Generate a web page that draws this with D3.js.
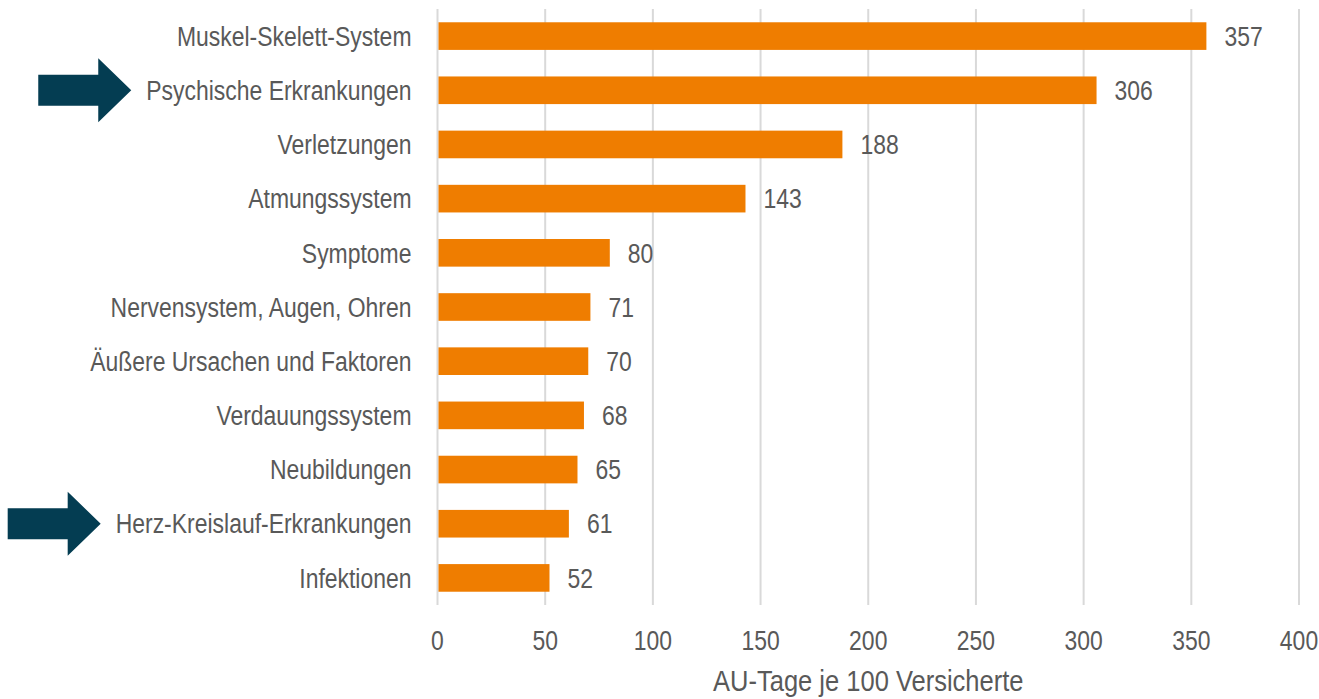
<!DOCTYPE html>
<html>
<head>
<meta charset="utf-8">
<script src="https://cdn.jsdelivr.net/npm/d3@7"></script>
<style>
  body { margin: 0; background: #fff; }
  svg text { font-family: "Liberation Sans", Arial, sans-serif; fill: #595959; }
</style>
</head>
<body>
<div class="js-container"></div>
<script>
(function() {
  'use strict';

  var categories = [
    'Muskel-Skelett-System', 'Psychische Erkrankungen', 'Verletzungen',
    'Atmungssystem', 'Symptome', 'Nervensystem, Augen, Ohren',
    'Äußere Ursachen und Faktoren', 'Verdauungssystem', 'Neubildungen',
    'Herz-Kreislauf-Erkrankungen', 'Infektionen'
  ];
  var values = [357, 306, 188, 143, 80, 71, 70, 68, 65, 61, 52];
  var ticks = [0, 50, 100, 150, 200, 250, 300, 350, 400];
  var highlighted = ['Psychische Erkrankungen', 'Herz-Kreislauf-Erkrankungen'];
  var axisTitle = 'AU-Tage je 100 Versicherte';

  var W = 1319, H = 699;
  var left = 437.5, right = 1299, top = 9, bottom = 605;
  var narrow = 0.85; // squeeze the text, the original uses a condensed face

  var svg = d3.select('.js-container').append('svg')
      .attr('width', W)
      .attr('height', H);

  var x = d3.scaleLinear().domain([0, 400]).range([left, right]);
  var y = d3.scaleBand().domain(categories).range([top, bottom]).paddingInner(0.49).paddingOuter(0.245);

  /**
   * Adds a condensed text at (tx, ty) to the given parent.
   */
  function addText(parent, tx, ty, str, anchor, size) {
    return parent.append('text')
        .attr('transform', 'translate(' + tx + ',' + ty + ') scale(' + narrow + ',1)')
        .attr('text-anchor', anchor || 'start')
        .attr('dy', '0.36em')
        .attr('font-size', size || 27)
        .text(str);
  }

  // gridlines
  svg.append('g').selectAll('line')
      .data(ticks)
      .join('line')
      .attr('x1', function(d) { return x(d); })
      .attr('x2', function(d) { return x(d); })
      .attr('y1', top)
      .attr('y2', bottom)
      .attr('stroke', '#d9d9d9')
      .attr('stroke-width', 2);

  // bars
  svg.append('g').selectAll('rect')
      .data(values)
      .join('rect')
      .attr('x', x(0) + 1)
      .attr('y', function(d, i) { return y(categories[i]); })
      .attr('width', function(d) { return x(d) - x(0) - 1; })
      .attr('height', y.bandwidth())
      .attr('fill', '#ef7d00');

  var gVal = svg.append('g');
  values.forEach(function(d, i) {
    addText(gVal, x(d) + 18, y(categories[i]) + y.bandwidth() / 2, d);
  });

  var gCat = svg.append('g');
  categories.forEach(function(d) {
    var cy = y(d) + y.bandwidth() / 2;
    var t = addText(gCat, left - 26, cy, d, 'end');
    if (highlighted.indexOf(d) < 0) return;
    // arrow pointing at the label
    var tip = left - 26 + t.node().getBBox().x * narrow - 15;
    var pts = [
      [tip - 93, cy - 15.5], [tip - 33, cy - 15.5], [tip - 33, cy - 32],
      [tip, cy], [tip - 33, cy + 32], [tip - 33, cy + 15.5], [tip - 93, cy + 15.5]
    ];
    svg.append('polygon')
        .attr('points', pts.map(function(p) { return p.join(','); }).join(' '))
        .attr('fill', '#043d52');
  });

  var gTick = svg.append('g');
  ticks.forEach(function(d) {
    addText(gTick, x(d), 640, d, 'middle');
  });

  addText(svg, (left + right) / 2, 680, axisTitle, 'middle', 30);

}());
</script>
</body>
</html>
